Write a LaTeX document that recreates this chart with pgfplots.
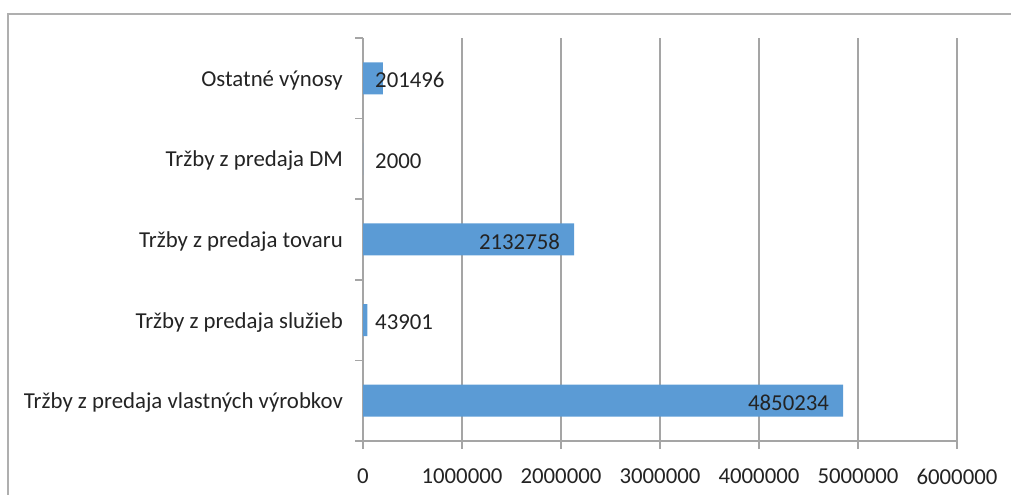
\documentclass[border=0pt]{standalone}
\usepackage{pgfplots}
\pgfplotsset{compat=1.18}
\usepackage{fontspec}
\setmainfont{Carlito}
\definecolor{barblue}{RGB}{91,155,213}
\definecolor{gridgray}{RGB}{165,165,165}
\definecolor{framegray}{RGB}{175,175,175}
\definecolor{txt}{RGB}{35,35,35}
\newcommand\cf{\fontsize{22.8bp}{26bp}\selectfont}
\begin{document}
\begin{tikzpicture}[font=\cf, text=txt]
\path[use as bounding box] (0,0) rectangle (1011bp,495bp);
\clip (0,0) rectangle (1011bp,495bp);
\draw[framegray, line width=2bp] (8bp,-30bp) -- (8bp,481bp) -- (1040bp,481bp);
\begin{axis}[
  at={(363bp,54bp)}, anchor=south west,
  scale only axis, width=594bp, height=403bp,
  xmin=0, xmax=6000000, ymin=-0.5, ymax=4.5,
  scaled x ticks=false,
  axis lines*=left,
  axis line style={gridgray, line width=1.5bp},
  xmajorgrids, grid style={gridgray, line width=1.5bp},
  xtick={0,1000000,2000000,3000000,4000000,5000000,6000000},
  xticklabels={0,1000000,2000000,3000000,4000000,5000000,6000000},
  ytick={0,1,2,3,4},
  yticklabels={Tržby z predaja vlastných výrobkov,Tržby z predaja služieb,Tržby z predaja tovaru,Tržby z predaja DM,Ostatné výnosy},
  minor ytick={-0.5,0.5,1.5,2.5,3.5,4.5},
  every major y tick/.style={draw=none},
  tick align=outside,
  major tick length=8bp, minor tick length=8bp,
  tick style={gridgray, line width=1.5bp},
  xticklabel style={anchor=north, inner sep=0pt, yshift=-20bp},
  yticklabel style={anchor=east, inner sep=0pt, xshift=-12bp, yshift=-2bp},
  clip=false,
]
\addplot[xbar, fill=barblue, draw=none, bar width=32bp] coordinates {(4850234,0) (43901,1) (2132758,2) (2000,3) (201496,4)};
\addplot[draw=none, mark=none, nodes near coords, point meta=explicit symbolic,
  nodes near coords style={anchor=east, inner sep=0pt, xshift=-14bp, yshift=-2bp, text=txt}]
  coordinates {(4850234,0) [4850234] (2132758,2) [2132758]};
\addplot[draw=none, mark=none, nodes near coords, point meta=explicit symbolic,
  nodes near coords style={anchor=west, inner sep=0pt, xshift=12bp, yshift=-2bp, text=txt}]
  coordinates {(0,1) [43901] (0,3) [2000] (0,4) [201496]};
\end{axis}
\end{tikzpicture}
\end{document}
